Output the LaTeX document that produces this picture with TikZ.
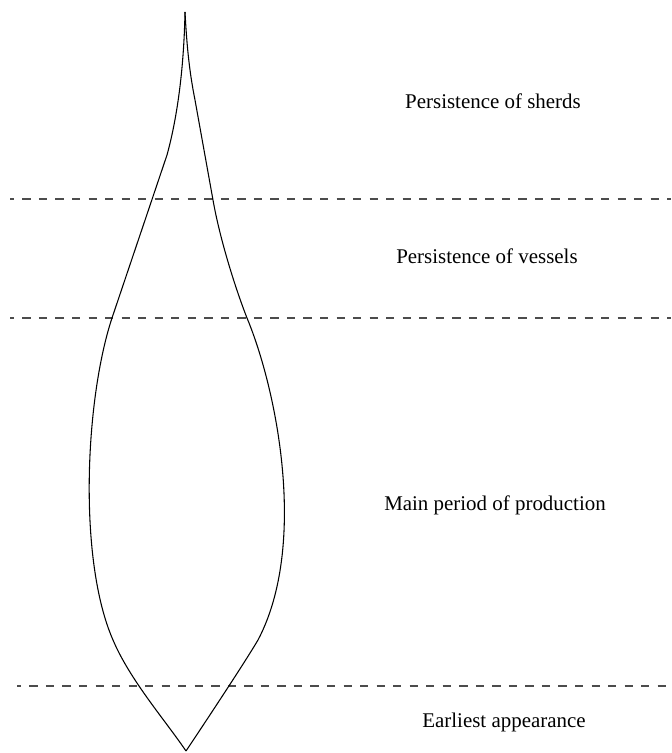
\documentclass[tikz,border=0pt]{standalone}
\usepackage{fontspec}
\setmainfont{Liberation Serif}

\tikzset{phase/.style = {draw = black!70, line width = 1.1pt,
                         dash pattern = on 6.2pt off 6.2pt, dash phase = 3.1pt},
         curve/.style = {draw, line width = 0.8pt, line join = round},
         label/.style = {font = \fontsize{15.7}{18}\selectfont, inner sep = 0pt,
                         anchor = base}
        }

\begin{document}
\begin{tikzpicture}[x=0.75pt, y=-0.75pt]
  \useasboundingbox (0,0) rectangle (671,753);
  % boundaries between phases
  \draw[phase] (10,199) -- (671,199);
  \draw[phase] (10,318) -- (671,318);
  \draw[phase] (17,686) -- (671,686);
  % battleship curve
  \draw[curve] (185,12) .. controls (184,65) and (178,115) .. (167,155)
                -- (112,318)
                .. controls (85,400) and (78,560) .. (113,640)
                .. controls (130,680) and (165,720) .. (186,751);
  \draw[curve] (185,12) .. controls (187,50) and (190,75) .. (195,100)
                -- (213,200)
                .. controls (220,240) and (236,290) .. (247,318)
                .. controls (277,390) and (308,545) .. (258,640)
                .. controls (245,662) and (210,715) .. (186,751);
  % phases
  \node[label] (sherds)   at (493,108) {Persistence of sherds};
  \node[label] (vessels)  at (487,263) {Persistence of vessels};
  \node[label] (main)     at (495,510) {Main period of production};
  \node[label] (earliest) at (504,727) {Earliest appearance};
\end{tikzpicture}
\end{document}
